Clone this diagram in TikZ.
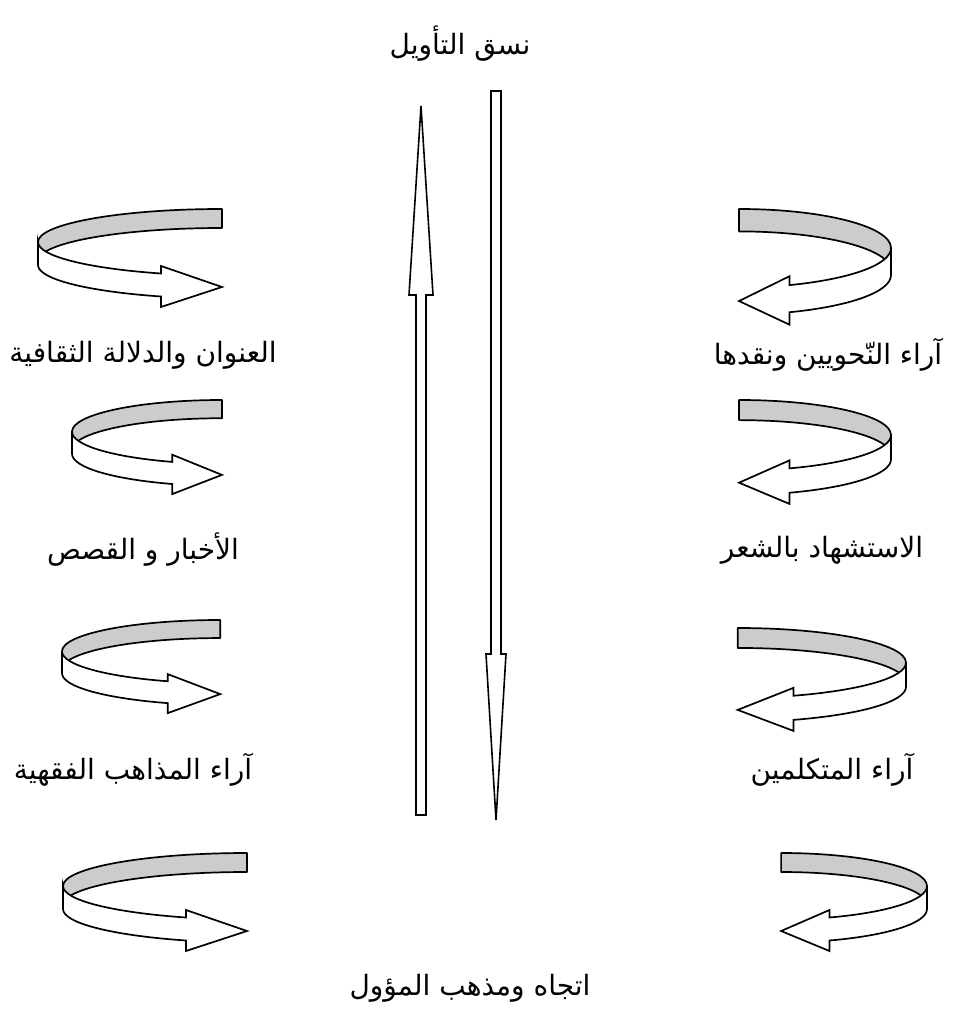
\documentclass[tikz,border=0pt]{standalone}
\usepackage{fontspec}
\TeXXeTstate=1
\newfontfamily\arabicfont[Script=Arabic]{DejaVu Sans}
\newcommand{\ar}[1]{{\arabicfont\fontsize{28}{32}\selectfont\beginR #1\endR}}
\tikzset{
  ribgrey/.style={fill=black!20, draw=black, line width=1.7pt, line join=round},
  ribwhite/.style={fill=white, draw=black, line width=1.7pt, line join=miter},
  blockarrow/.style={fill=white, draw=black, line width=1.6pt, line join=miter},
  lbl/.style={inner sep=0pt, text=black}
}
% #1 x of vertical edge, #2 top y, #3 signed x scale, #4 y scale
\newcommand{\ribbon}[4]{%
\begin{scope}[shift={(#1,#2)}, xscale=#3, yscale=#4]
 \filldraw[ribgrey] (184,0) .. controls (82,0) and (0,14.8) .. (0,33)
   -- (0,52) .. controls (0,33.8) and (82,19) .. (184,19) -- cycle;
 \filldraw[ribwhite] (0,33) .. controls (0,47.4) and (51.2,59.6) .. (123,64.5)
   -- (123,57) -- (184,78) -- (123,98) -- (123,87.5)
   .. controls (51.2,82.6) and (0,70.4) .. (0,56) -- cycle;
\end{scope}}
\begin{document}
\begin{tikzpicture}[x=1pt,y=-1pt]
\useasboundingbox (0,0) rectangle (960,1024);
\fill[white] (0,0) rectangle (960,1024);

% titles
\node[lbl] (top) at (460,44) {\ar{نسق التأويل}};
\node[lbl] (bottom) at (470,988) {\ar{اتجاه ومذهب المؤول}};

% vertical block arrows
\draw[blockarrow] (421,106) -- (433,295) -- (426,295) -- (426,815) -- (416,815) -- (416,295) -- (409,295) -- cycle;
\draw[blockarrow] (491,91) -- (501,91) -- (501,654) -- (506,654) -- (496,820) -- (486,654) -- (491,654) -- cycle;

% left ribbons
\ribbon{38}{209}{1}{1}
\ribbon{72}{400}{0.815}{0.96}
\ribbon{62}{620}{0.86}{0.95}
\ribbon{63}{853}{1.0}{1.0}
% right ribbons
\ribbon{891}{209}{-0.826}{1.18}
\ribbon{891}{400}{-0.826}{1.06}
\ribbon{906}{628}{-0.915}{1.05}
\ribbon{927}{853}{-0.793}{1.0}

% labels
\node[lbl] (l1) at (143,355) {\ar{العنوان والدلالة الثقافية}};
\node[lbl] (l2) at (143,550) {\ar{الأخبار و القصص}};
\node[lbl] (l3) at (133,770) {\ar{آراء المذاهب الفقهية}};
\node[lbl] (r1) at (828,355) {\ar{آراء النّحويين ونقدها}};
\node[lbl] (r2) at (822,550) {\ar{الاستشهاد بالشعر}};
\node[lbl] (r3) at (832,770) {\ar{آراء المتكلمين}};
\end{tikzpicture}
\end{document}
